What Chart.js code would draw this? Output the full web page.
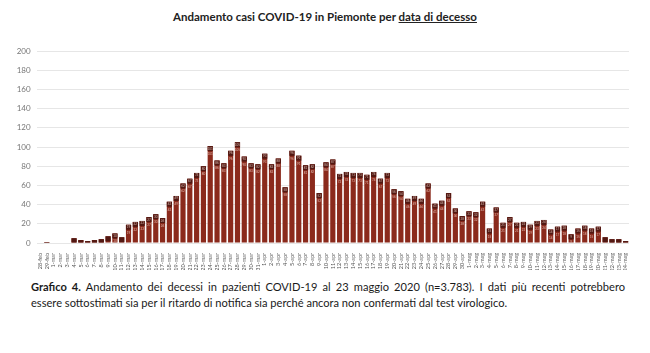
<!DOCTYPE html>
<html>
<head>
<meta charset="utf-8">
<script src="https://cdn.jsdelivr.net/npm/chart.js@4/dist/chart.umd.min.js"></script>
<style>
  html, body { margin: 0; padding: 0; background: #ffffff; }
  body { width: 650px; height: 353px; position: relative; overflow: hidden; font-family: "Lato", "Open Sans", sans-serif; }
  #title { position: absolute; top: 10px; left: 0; width: 650px; text-align: center; font-weight: bold; font-size: 11.5px; color: #222; }
  #title u { text-decoration-thickness: 1px; text-underline-offset: 1px; }
  #wrap { position: absolute; left: 0; top: 40px; width: 650px; height: 230px; }
  #caption { position: absolute; left: 31px; top: 279px; width: 594px; font-size: 11.1px; line-height: 16px; color: #1a1a1a; }
  #caption .l1 { text-align: justify; text-align-last: justify; white-space: nowrap; }
</style>
</head>
<body>
<div id="title">Andamento casi COVID-19 in Piemonte per <u>data di decesso</u></div>
<div id="wrap"><canvas id="c" width="650" height="230"></canvas></div>
<div id="caption">
  <div class="l1"><b>Grafico 4.</b> Andamento dei decessi in pazienti COVID-19 al 23 maggio 2020 (n=3.783). I dati più recenti potrebbero</div>
  <div>essere sottostimati sia per il ritardo di notifica sia perché ancora non confermati dal test virologico.</div>
</div>
<script>
const dateLabels = [
  "28-feb","29-feb",
  "1-mar","2-mar","3-mar","4-mar","5-mar","6-mar","7-mar","8-mar","9-mar","10-mar",
  "11-mar","12-mar","13-mar","14-mar","15-mar","16-mar","17-mar","18-mar","19-mar","20-mar",
  "21-mar","22-mar","23-mar","24-mar","25-mar","26-mar","27-mar","28-mar","29-mar","30-mar","31-mar",
  "1-apr","2-apr","3-apr","4-apr","5-apr","6-apr","7-apr","8-apr","9-apr","10-apr",
  "11-apr","12-apr","13-apr","14-apr","15-apr","16-apr","17-apr","18-apr","19-apr","20-apr",
  "21-apr","22-apr","23-apr","24-apr","25-apr","26-apr","27-apr","28-apr","29-apr","30-apr",
  "1-mag","2-mag","3-mag","4-mag","5-mag","6-mag","7-mag","8-mag","9-mag","10-mag",
  "11-mag","12-mag","13-mag","14-mag","15-mag","16-mag","17-mag","18-mag","19-mag","20-mag",
  "21-mag","22-mag","23-mag","24-mag"
];
const decessi = [
  0, 1,
  0, 0, 0, 5, 3, 2, 3, 4, 7, 10,
  6, 19, 22, 23, 27, 30, 26, 43, 49, 62,
  67, 73, 80, 101, 86, 83, 96, 105, 90, 83, 82,
  93, 82, 88, 58, 96, 91, 81, 82, 52, 84,
  87, 72, 74, 73, 73, 71, 74, 67, 73, 56,
  54, 46, 49, 46, 62, 41, 44, 52, 36, 28,
  33, 32, 43, 15, 37, 21, 27, 21, 22, 19,
  23, 24, 14, 17, 18, 9, 15, 18, 15, 17,
  6, 4, 4, 2
];
const yTicks = [0, 20, 40, 60, 80, 100, 120, 140, 160, 180, 200];

const capPlugin = {
  id: 'caps',
  afterDatasetsDraw(chart) {
    const ctx = chart.ctx;
    const meta = chart.getDatasetMeta(0);
    ctx.save();
    meta.data.forEach((bar, i) => {
      const v = decessi[i];
      if (!v) return;
      const w = bar.width;
      const h = Math.min(5, bar.base - bar.y);
      ctx.fillStyle = '#521812';
      ctx.fillRect(bar.x - w / 2, bar.y, w, h);
      if (bar.base - bar.y > 8) {
        ctx.fillStyle = 'rgba(255,235,225,0.7)';
        ctx.font = '3px Lato';
        ctx.textAlign = 'center';
        ctx.textBaseline = 'middle';
        ctx.fillText(String(v), bar.x, bar.y + 2.5);
        ctx.fillText(String(v), bar.x, bar.y + 8);
      }
    });
    ctx.restore();
  }
};

new Chart(document.getElementById('c'), {
  type: 'bar',
  data: {
    labels: dateLabels,
    datasets: [{
      data: decessi,
      backgroundColor: '#8b2a1c',
      borderWidth: 0,
      barPercentage: 0.76,
      categoryPercentage: 1.0
    }]
  },
  options: {
    responsive: false,
    animation: false,
    devicePixelRatio: 1,
    layout: { padding: { top: 11, right: 21, left: 0, bottom: 0 } },
    plugins: { legend: { display: false }, tooltip: { enabled: false } },
    scales: {
      x: {
        grid: { display: false },
        border: { display: false },
        ticks: {
          autoSkip: false, maxRotation: 90, minRotation: 90,
          font: { family: 'Lato', size: 5.5 }, color: '#555', padding: 2
        },
        afterFit(scale) { scale.height = 27; }
      },
      y: {
        min: 0, max: 200,
        afterBuildTicks(scale) { scale.ticks = yTicks.map(v => ({ value: v })); },
        grid: { color: '#e6e6e6', drawTicks: false, lineWidth: 1 },
        border: { display: false },
        ticks: { font: { family: 'Lato', size: 8 }, color: '#777', padding: 6 },
        afterFit(scale) { scale.width = 36.6; }
      }
    }
  },
  plugins: [capPlugin]
});
</script>
</body>
</html>
